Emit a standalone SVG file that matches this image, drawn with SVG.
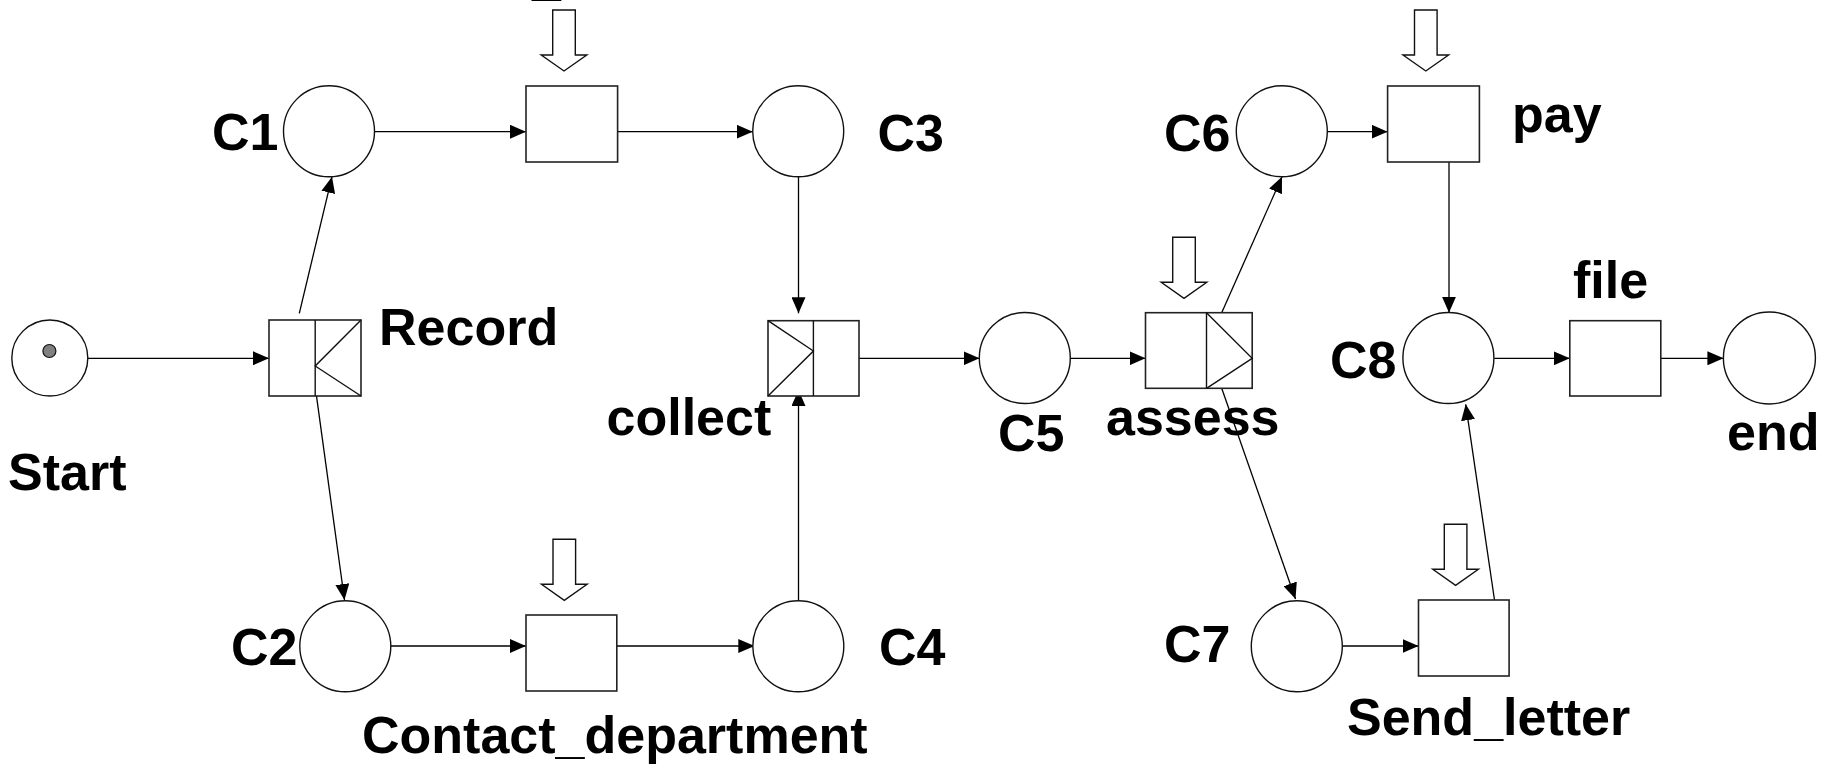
<svg xmlns="http://www.w3.org/2000/svg" width="1833" height="764" viewBox="0 0 1833 764">
<style>
.p{fill:#fff;stroke:#111;stroke-width:1.4}
.t{fill:#fff;stroke:#222;stroke-width:1.6}
.d{fill:none;stroke:#111;stroke-width:1.4}
.h{fill:#fff;stroke:#111;stroke-width:1.4;stroke-linejoin:miter}
.c{fill:none;stroke:#000;stroke-width:1.3}
.lb{font-family:"Liberation Sans",Arial,sans-serif;font-weight:bold;font-size:52px;fill:#000}
</style>
<defs>
<marker id="ah" markerUnits="userSpaceOnUse" markerWidth="16" markerHeight="14" refX="16" refY="7" orient="auto">
<path d="M0,0 L16,7 L0,14 z" fill="#000"/>
</marker>
<path id="hollow" d="M-11.3,0 L11.3,0 L11.3,45 L22.8,45 L0,61 L-22.8,45 L-11.3,45 z"/>
</defs>
<rect width="1833" height="764" fill="#fff"/>

<g id="connectors">
<line class="c" x1="87.8" y1="358.3" x2="269" y2="358.3" marker-end="url(#ah)"/>
<line class="c" x1="299.3" y1="313.3" x2="332" y2="176.7" marker-end="url(#ah)"/>
<line class="c" x1="315.2" y1="386.7" x2="344.5" y2="600" marker-end="url(#ah)"/>
<line class="c" x1="374.5" y1="131.7" x2="525.9" y2="131.7" marker-end="url(#ah)"/>
<line class="c" x1="617.6" y1="131.7" x2="752.7" y2="131.7" marker-end="url(#ah)"/>
<line class="c" x1="798.5" y1="176.7" x2="798.5" y2="313.3" marker-end="url(#ah)"/>
<line class="c" x1="798.5" y1="601" x2="798.5" y2="390" marker-end="url(#ah)"/>
<line class="c" x1="858.9" y1="358.3" x2="979.5" y2="358.3" marker-end="url(#ah)"/>
<line class="c" x1="1070" y1="358.3" x2="1145.5" y2="358.3" marker-end="url(#ah)"/>
<line class="c" x1="1221.7" y1="312.7" x2="1282" y2="176.7" marker-end="url(#ah)"/>
<line class="c" x1="1221.7" y1="388.3" x2="1295.5" y2="599" marker-end="url(#ah)"/>
<line class="c" x1="1327.3" y1="131.7" x2="1387.6" y2="131.7" marker-end="url(#ah)"/>
<line class="c" x1="1449" y1="162" x2="1449" y2="312.7" marker-end="url(#ah)"/>
<line class="c" x1="1494.3" y1="358.3" x2="1569.8" y2="358.3" marker-end="url(#ah)"/>
<line class="c" x1="1660.9" y1="358.3" x2="1723.4" y2="358.3" marker-end="url(#ah)"/>
<line class="c" x1="390.8" y1="646" x2="525.9" y2="646" marker-end="url(#ah)"/>
<line class="c" x1="616.8" y1="646" x2="754.3" y2="646" marker-end="url(#ah)"/>
<line class="c" x1="1341.3" y1="646" x2="1418.5" y2="646" marker-end="url(#ah)"/>
<line class="c" x1="1494.5" y1="600" x2="1465.7" y2="404.3" marker-end="url(#ah)"/>
</g>

<g id="start">
<circle class="p" cx="49.8" cy="358" r="38"/>
<circle cx="49.4" cy="351" r="6.5" fill="#808080" stroke="#111" stroke-width="1.2"/>
<text class="lb" x="8" y="490">Start</text>
</g>

<g id="record">
<rect class="t" x="269" y="320" width="92" height="76"/>
<line class="d" x1="315.2" y1="320" x2="315.2" y2="396"/>
<polyline class="d" points="361,320 315.2,366 361,396"/>
<text class="lb" x="379" y="345">Record</text>
</g>

<g id="c1">
<circle class="p" cx="329" cy="131.3" r="45.5"/>
<text class="lb" x="212" y="149.5">C1</text>
</g>

<g id="t1">
<rect class="t" x="526" y="86" width="91.6" height="76"/>
<use href="#hollow" class="h" x="564" y="10"/>
<text class="lb" x="532" y="-5">_</text>
</g>

<g id="c3">
<circle class="p" cx="798.2" cy="131.3" r="45.5"/>
<text class="lb" x="877.5" y="151">C3</text>
</g>

<g id="collect">
<rect class="t" x="768" y="320.7" width="91" height="75.3"/>
<line class="d" x1="813.4" y1="320.7" x2="813.4" y2="396"/>
<polyline class="d" points="768,320.7 813.4,351 768,396"/>
<text class="lb" x="606.5" y="435">collect</text>
</g>

<g id="c5">
<circle class="p" cx="1024.8" cy="358" r="45.5"/>
<text class="lb" x="998" y="451">C5</text>
</g>

<g id="assess">
<rect class="t" x="1145.5" y="312.7" width="106.7" height="75.6"/>
<line class="d" x1="1206.5" y1="312.7" x2="1206.5" y2="388.3"/>
<polyline class="d" points="1206.5,312.7 1252.2,358.3 1206.5,388.3"/>
<use href="#hollow" class="h" x="1184" y="237.3"/>
<text class="lb" x="1106" y="435">assess</text>
</g>

<g id="c6">
<circle class="p" cx="1281.8" cy="131.3" r="45.5"/>
<text class="lb" x="1164" y="151">C6</text>
</g>

<g id="pay">
<rect class="t" x="1387.6" y="86" width="91.8" height="76"/>
<use href="#hollow" class="h" x="1425.8" y="10"/>
<text class="lb" x="1512" y="131.5">pay</text>
</g>

<g id="c8">
<circle class="p" cx="1448.4" cy="358" r="45.5"/>
<text class="lb" x="1330" y="378.3">C8</text>
</g>

<g id="file">
<rect class="t" x="1569.8" y="320.7" width="91" height="75.3"/>
<text class="lb" x="1573" y="298.3">file</text>
</g>

<g id="end">
<circle class="p" cx="1769.4" cy="358" r="46"/>
<text class="lb" x="1727" y="450">end</text>
</g>

<g id="c2">
<circle class="p" cx="345.3" cy="646.3" r="45.5"/>
<text class="lb" x="231" y="665">C2</text>
</g>

<g id="contact_department">
<rect class="t" x="526" y="615" width="90.8" height="76"/>
<use href="#hollow" class="h" x="564.3" y="539.3"/>
<text class="lb" x="362" y="752.5">Contact_department</text>
</g>

<g id="c4">
<circle class="p" cx="798.3" cy="646.3" r="45.5"/>
<text class="lb" x="879" y="665">C4</text>
</g>

<g id="c7">
<circle class="p" cx="1296.8" cy="646.3" r="45.5"/>
<text class="lb" x="1164" y="662">C7</text>
</g>

<g id="send_letter">
<rect class="t" x="1418.5" y="600" width="90.6" height="76"/>
<use href="#hollow" class="h" x="1455.6" y="524.3"/>
<text class="lb" x="1347" y="735">Send_letter</text>
</g>
</svg>
